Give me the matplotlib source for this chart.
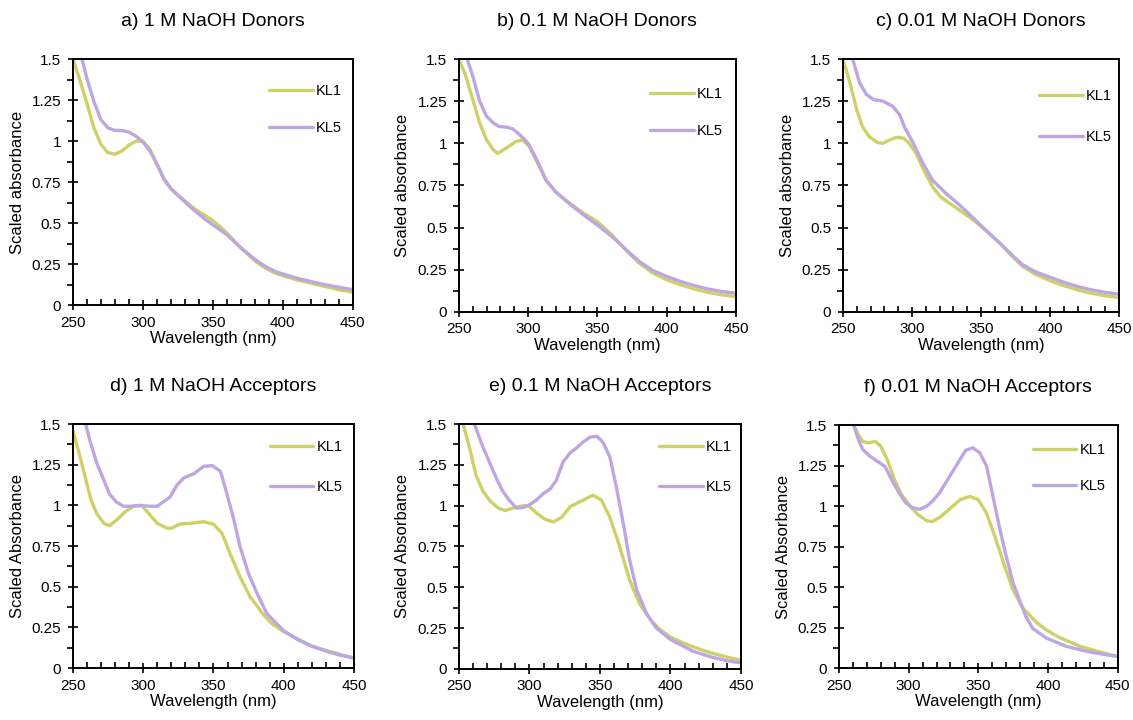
import matplotlib
matplotlib.use('Agg')
import matplotlib.pyplot as plt
from matplotlib.ticker import MultipleLocator, FuncFormatter

plt.rcParams['font.family'] = ['Liberation Sans', 'DejaVu Sans']

# colours of the two samples
KL1_COLOR = '#cdd168'
KL5_COLOR = '#bea6e2'

titles = ['a) 1 M NaOH Donors', 'b) 0.1 M NaOH Donors', 'c) 0.01 M NaOH Donors',
          'd) 1 M NaOH Acceptors', 'e) 0.1 M NaOH Acceptors', 'f) 0.01 M NaOH Acceptors']
ylabels = ['Scaled absorbance'] * 3 + ['Scaled Absorbance'] * 3

# a) 1 M donors
wl_a_kl1 = [250, 255, 260, 265, 270, 275, 280, 285, 290, 295, 300, 305, 310, 315, 320, 325, 330, 335,
            340, 345, 350, 355, 360, 365, 370, 375, 380, 385, 390, 395, 400, 410, 420, 430, 440, 450]
ab_a_kl1 = [1.50, 1.37, 1.23, 1.08, 0.98, 0.93, 0.92, 0.94, 0.975, 1.0, 1.0, 0.95, 0.86, 0.77, 0.71,
            0.67, 0.635, 0.60, 0.57, 0.545, 0.515, 0.48, 0.44, 0.395, 0.35, 0.31, 0.27, 0.24, 0.215,
            0.195, 0.18, 0.155, 0.135, 0.115, 0.095, 0.08]
wl_a_kl5 = [250, 255, 260, 265, 270, 275, 280, 285, 290, 295, 300, 305, 310, 315, 320, 325, 330, 335,
            340, 345, 350, 355, 360, 365, 370, 375, 380, 385, 390, 395, 400, 410, 420, 430, 440, 450]
ab_a_kl5 = [1.75, 1.55, 1.38, 1.24, 1.13, 1.08, 1.065, 1.065, 1.055, 1.03, 0.995, 0.94, 0.86, 0.77,
            0.71, 0.67, 0.63, 0.59, 0.555, 0.52, 0.49, 0.46, 0.43, 0.39, 0.35, 0.315, 0.28, 0.25,
            0.225, 0.205, 0.19, 0.165, 0.145, 0.125, 0.11, 0.095]

# b) 0.1 M donors
wl_b_kl1 = [250, 255, 260, 265, 270, 275, 278, 284, 291, 296, 301, 307, 313, 320, 330, 340, 350, 360,
            370, 380, 390, 400, 410, 420, 430, 440, 450]
ab_b_kl1 = [1.50, 1.40, 1.26, 1.12, 1.02, 0.96, 0.94, 0.97, 1.01, 1.02, 0.98, 0.88, 0.78, 0.71, 0.645,
            0.585, 0.535, 0.46, 0.37, 0.29, 0.23, 0.19, 0.16, 0.135, 0.115, 0.10, 0.09]
wl_b_kl5 = [250, 256, 260, 265, 270, 275, 279, 285, 289, 294, 300, 307, 313, 320, 330, 340, 350, 360,
            370, 380, 390, 400, 410, 420, 430, 440, 450]
ab_b_kl5 = [1.65, 1.50, 1.40, 1.25, 1.16, 1.12, 1.10, 1.095, 1.085, 1.05, 1.0, 0.89, 0.78, 0.71, 0.64,
            0.575, 0.515, 0.45, 0.375, 0.30, 0.245, 0.21, 0.18, 0.155, 0.135, 0.12, 0.11]

# c) 0.01 M donors
wl_c_kl1 = [250, 255, 260, 264, 269, 275, 279, 284, 289, 294, 298, 303, 308, 315, 321, 328, 335, 342,
            349, 356, 364, 372, 380, 390, 400, 410, 420, 430, 440, 450]
ab_c_kl1 = [1.50, 1.36, 1.20, 1.10, 1.04, 1.005, 1.0, 1.02, 1.036, 1.03, 1.0, 0.94, 0.85, 0.74, 0.68,
            0.64, 0.60, 0.56, 0.515, 0.465, 0.405, 0.335, 0.27, 0.22, 0.185, 0.155, 0.13, 0.11, 0.095,
            0.085]
wl_c_kl5 = [250, 257, 262, 267, 272, 279, 286, 291, 295, 301, 308, 315, 325, 335, 342, 349, 356, 364,
            372, 380, 390, 400, 410, 420, 430, 440, 450]
ab_c_kl5 = [1.70, 1.50, 1.36, 1.29, 1.26, 1.25, 1.22, 1.17, 1.09, 1.0, 0.88, 0.78, 0.70, 0.63, 0.575,
            0.52, 0.465, 0.405, 0.34, 0.28, 0.235, 0.205, 0.175, 0.15, 0.13, 0.115, 0.105]

# d) 1 M acceptors
wl_d_kl1 = [250, 255, 260, 263, 267, 272, 276, 281, 287, 293, 299, 304, 310, 317, 320, 326, 333, 343,
            350, 356, 362, 369, 376, 385, 392, 400, 410, 420, 430, 440, 450]
ab_d_kl1 = [1.46, 1.30, 1.13, 1.03, 0.95, 0.89, 0.875, 0.91, 0.96, 0.995, 1.0, 0.95, 0.89, 0.86, 0.86,
            0.885, 0.89, 0.90, 0.885, 0.83, 0.70, 0.56, 0.44, 0.335, 0.27, 0.225, 0.18, 0.135, 0.11,
            0.085, 0.062]
wl_d_kl5 = [255, 259, 262, 267, 272, 276, 281, 286, 291, 298, 305, 310, 314, 319, 324, 329, 336, 343,
            349, 355, 359, 364, 369, 375, 381, 388, 400, 410, 420, 430, 440, 450]
ab_d_kl5 = [1.62, 1.50, 1.40, 1.26, 1.155, 1.07, 1.02, 0.995, 0.995, 1.0, 0.995, 0.995, 1.02, 1.05,
            1.125, 1.17, 1.195, 1.24, 1.245, 1.21, 1.09, 0.93, 0.745, 0.58, 0.46, 0.335, 0.23, 0.175,
            0.135, 0.105, 0.08, 0.062]

# e) 0.1 M acceptors
wl_e_kl1 = [250, 253, 258, 262, 267, 272, 278, 283, 288, 296, 300, 305, 311, 317, 323, 329, 336, 345,
            351, 357, 364, 371, 378, 386, 392, 400, 410, 421, 430, 440, 450]
ab_e_kl1 = [1.58, 1.50, 1.34, 1.19, 1.09, 1.03, 0.985, 0.97, 0.985, 1.0, 0.995, 0.955, 0.917, 0.90,
            0.93, 0.995, 1.025, 1.065, 1.035, 0.93, 0.75, 0.545, 0.40, 0.30, 0.245, 0.195, 0.155, 0.12,
            0.095, 0.072, 0.053]
wl_e_kl5 = [255, 261, 267, 272, 277, 281, 286, 291, 296, 300, 305, 310, 315, 319, 324, 329, 333, 338,
            343, 348, 352, 357, 362, 367, 371, 376, 383, 390, 400, 416, 430, 440, 450]
ab_e_kl5 = [1.68, 1.50, 1.36, 1.26, 1.16, 1.09, 1.03, 0.985, 0.99, 1.005, 1.035, 1.075, 1.105, 1.155,
            1.27, 1.325, 1.35, 1.39, 1.42, 1.425, 1.39, 1.30, 1.10, 0.87, 0.67, 0.485, 0.34, 0.25, 0.18,
            0.108, 0.07, 0.05, 0.037]

# f) 0.01 M acceptors
wl_f_kl1 = [255, 260.5, 264, 267, 271, 276, 280, 285, 290, 295, 301, 307, 313, 317, 323, 331, 337, 344,
            350, 356, 362, 369, 375, 382, 392, 399, 408, 423, 435, 450]
ab_f_kl1 = [1.65, 1.50, 1.44, 1.40, 1.39, 1.40, 1.37, 1.28, 1.16, 1.07, 1.0, 0.945, 0.91, 0.905, 0.935,
            0.995, 1.04, 1.06, 1.04, 0.955, 0.81, 0.625, 0.48, 0.37, 0.28, 0.235, 0.19, 0.135, 0.105,
            0.072]
wl_f_kl5 = [255, 260.5, 264, 267, 272, 277, 283, 288, 294, 298, 303, 308, 313, 317, 322, 327, 332, 337,
            341, 346, 351, 356, 360, 365, 370, 375, 380, 384, 389, 399, 413, 427, 440, 450]
ab_f_kl5 = [1.62, 1.50, 1.41, 1.35, 1.31, 1.28, 1.245, 1.16, 1.07, 1.02, 0.99, 0.98, 1.0, 1.03, 1.08,
            1.15, 1.22, 1.29, 1.345, 1.36, 1.33, 1.245, 1.08, 0.875, 0.69, 0.525, 0.41, 0.32, 0.245,
            0.185, 0.135, 0.105, 0.085, 0.072]

kl1_series = [(wl_a_kl1, ab_a_kl1), (wl_b_kl1, ab_b_kl1), (wl_c_kl1, ab_c_kl1),
              (wl_d_kl1, ab_d_kl1), (wl_e_kl1, ab_e_kl1), (wl_f_kl1, ab_f_kl1)]
kl5_series = [(wl_a_kl5, ab_a_kl5), (wl_b_kl5, ab_b_kl5), (wl_c_kl5, ab_c_kl5),
              (wl_d_kl5, ab_d_kl5), (wl_e_kl5, ab_e_kl5), (wl_f_kl5, ab_f_kl5)]

# axes rectangles in figure fractions, picked to line up with the source figure
rects = [[0.0644, 0.576, 0.247, 0.342], [0.405, 0.567, 0.2445, 0.351], [0.744, 0.567, 0.2436, 0.351],
         [0.0644, 0.072, 0.248, 0.339], [0.405, 0.071, 0.249, 0.340], [0.7405, 0.072, 0.246, 0.3375]]
leg_pos = [(0.70, 0.90), (0.69, 0.89), (0.71, 0.88), (0.70, 0.935), (0.71, 0.935), (0.695, 0.925)]
leg_space = [1.6, 1.6, 1.8, 1.8, 1.8, 1.5]

fig = plt.figure(figsize=(11.33, 7.2), dpi=100)

for i in range(6):
    ax = fig.add_axes(rects[i])
    ax.plot(*kl1_series[i], color=KL1_COLOR, lw=2.4, label='KL1', solid_capstyle='round')
    ax.plot(*kl5_series[i], color=KL5_COLOR, lw=2.4, label='KL5', solid_capstyle='round')
    ax.set_xlim(250, 450)
    ax.set_ylim(0, 1.5)
    ax.xaxis.set_major_locator(MultipleLocator(50))
    ax.xaxis.set_minor_locator(MultipleLocator(10))
    ax.yaxis.set_major_locator(MultipleLocator(0.25))
    ax.yaxis.set_minor_locator(MultipleLocator(0.125))
    ax.yaxis.set_major_formatter(FuncFormatter(lambda v, p: f'{v:g}'))
    ax.tick_params(axis='both', which='major', direction='inout', length=7, width=1.2,
                   labelsize=11)
    ax.tick_params(axis='x', which='major', pad=4)
    ax.tick_params(axis='y', which='major', pad=5)
    ax.tick_params(axis='x', which='minor', direction='in', length=4, width=1.2)
    ax.tick_params(axis='y', which='minor', direction='out', length=4, width=1.2)
    for s in ax.spines.values():
        s.set_linewidth(1.4)
    ax.set_xlabel('Wavelength (nm)', fontsize=12, labelpad=1)
    ax.set_ylabel(ylabels[i], fontsize=12, labelpad=5)
    ax.set_title(titles[i], fontsize=14, pad=24)
    ax.legend(loc='upper left', bbox_to_anchor=leg_pos[i], frameon=False, fontsize=10.5,
              handlelength=3.0, handletextpad=0.2, labelspacing=leg_space[i],
              borderpad=0, borderaxespad=0)

fig.savefig('out.png', dpi=100)
